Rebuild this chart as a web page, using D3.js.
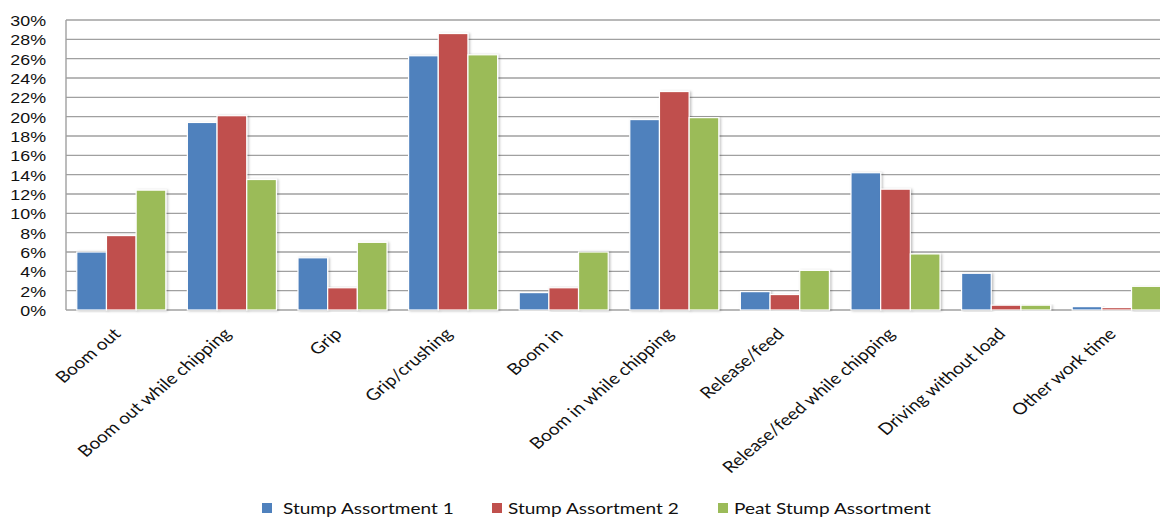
<!DOCTYPE html>
<html>
<head>
<meta charset="UTF-8">
<title>Work element shares</title>
<script src="https://cdnjs.cloudflare.com/ajax/libs/d3/7.8.5/d3.min.js"></script>
<style>
	body { margin: 0; background: #fff; }
	svg { display: block; font-family: Lato, "Open Sans", sans-serif; }
	.grid line { stroke: #a0a0a0; stroke-width: 1.4; }
	.ytick text { font-size: 15px; fill: #111; }
	.xlab { font-size: 16px; fill: #111; }
	.legend text { font-size: 16px; fill: #111; }
</style>
</head>
<body>
<div id="chart"></div>
<script>

// categories on the x axis
var categories = ["Boom out", "Boom out while chipping", "Grip", "Grip/crushing", "Boom in",
	"Boom in while chipping", "Release/feed", "Release/feed while chipping",
	"Driving without load", "Other work time"];

var seriesNames = ["Stump Assortment 1", "Stump Assortment 2", "Peat Stump Assortment"];

// values in percent
var stump1 = [6.0, 19.4, 5.4, 26.3, 1.8, 19.7, 1.9, 14.2, 3.8, 0.35];
var stump2 = [7.7, 20.1, 2.3, 28.6, 2.3, 22.6, 1.6, 12.5, 0.5, 0.25];
var peat   = [12.4, 13.5, 7.0, 26.4, 6.0, 19.9, 4.1, 5.8, 0.5, 2.45];

var yTicks = [0, 2, 4, 6, 8, 10, 12, 14, 16, 18, 20, 22, 24, 26, 28, 30];

var colors = ["#4f81bd", "#c0504d", "#9bbb59"];

var width = 1160, height = 518;
var plotLeft = 66, plotRight = 1172, plotTop = 20, plotBottom = 310;
// the original picture is stretched sideways, so text is too
var stretch = 1.19;

var svg = d3.select("#chart").append("svg")
	.attr("width", width)
	.attr("height", height);

var defs = svg.append("defs");
var shadow = defs.append("filter").attr("id", "shadow")
	.attr("x", "-20%").attr("y", "-5%").attr("width", "150%").attr("height", "110%");
shadow.append("feDropShadow")
	.attr("dx", 1.5).attr("dy", 0.5)
	.attr("stdDeviation", 1.2)
	.attr("flood-color", "#000")
	.attr("flood-opacity", 0.25);

var x0 = d3.scaleBand()
	.domain(categories)
	.range([plotLeft, plotRight])
	.paddingInner(0.195)
	.paddingOuter(0.0975);

var x1 = d3.scaleBand()
	.domain([0, 1, 2])
	.range([0, x0.bandwidth()]);

var y = d3.scaleLinear()
	.domain([0, 30])
	.range([plotBottom, plotTop]);

// gridlines
var grid = svg.append("g").attr("class", "grid");
grid.selectAll("line")
	.data(yTicks)
	.enter().append("line")
	.attr("x1", plotLeft)
	.attr("x2", width)
	.attr("y1", function(d) { return y(d); })
	.attr("y2", function(d) { return y(d); });

grid.append("line")
	.attr("x1", plotLeft).attr("x2", plotLeft)
	.attr("y1", y(30)).attr("y2", y(0));

// y axis labels
var yAxis = d3.axisLeft(y)
	.tickValues(yTicks)
	.tickSize(0)
	.tickPadding(20)
	.tickFormat(function(d) { return d + "%"; });

var yg = svg.append("g")
	.attr("transform", "translate(" + plotLeft + ",0)")
	.call(yAxis);
yg.select(".domain").remove();
yg.selectAll(".tick").attr("class", "tick ytick");
yg.selectAll("text")
	.attr("x", 0)
	.attr("dy", "0.36em")
	.attr("transform", "translate(-20,0) scale(" + stretch + ",1)");

// bars
var data = categories.map(function(c, i) {
	return { cat: c, vals: [stump1[i], stump2[i], peat[i]] };
});

var groups = svg.append("g").selectAll("g")
	.data(data)
	.enter().append("g")
	.attr("transform", function(d) { return "translate(" + x0(d.cat) + ",0)"; });

groups.selectAll("rect")
	.data(function(d) { return d.vals.map(function(v, k) { return { k: k, v: v }; }); })
	.enter().append("rect")
	.attr("x", function(d) { return x1(d.k); })
	.attr("width", x1.bandwidth())
	.attr("y", function(d) { return y(d.v); })
	.attr("height", function(d) { return y(0) - y(d.v); })
	.attr("fill", function(d) { return colors[d.k]; })
	.attr("stroke", "#fff")
	.attr("stroke-width", 1.2)
	.attr("filter", "url(#shadow)");

// x labels, rotated
svg.append("g").selectAll("text")
	.data(categories)
	.enter().append("text")
	.attr("class", "xlab")
	.attr("text-anchor", "end")
	.attr("transform", function(d) {
		var cx = x0(d) + x0.bandwidth() / 2 - 9;
		return "translate(" + cx + "," + (plotBottom + 17) + ") scale(" + stretch + ",1) rotate(-45)";
	})
	.attr("dy", "0.7em")
	.text(function(d) { return d; });

// legend
var legendX = [262, 492, 718];
var legend = svg.append("g").attr("class", "legend");
var items = legend.selectAll("g")
	.data(seriesNames)
	.enter().append("g")
	.attr("transform", function(d, i) { return "translate(" + legendX[i] + ",508)"; });

items.append("rect")
	.attr("x", 0).attr("y", -5)
	.attr("width", 10).attr("height", 10)
	.attr("fill", function(d, i) { return colors[i]; });

items.append("text")
	.attr("x", 0)
	.attr("dy", "0.35em")
	.attr("transform", function(d, i) { return "translate(" + (i == 0 ? 21 : 16) + ",0) scale(" + stretch + ",1)"; })
	.text(function(d) { return d; });

</script>
</body>
</html>
